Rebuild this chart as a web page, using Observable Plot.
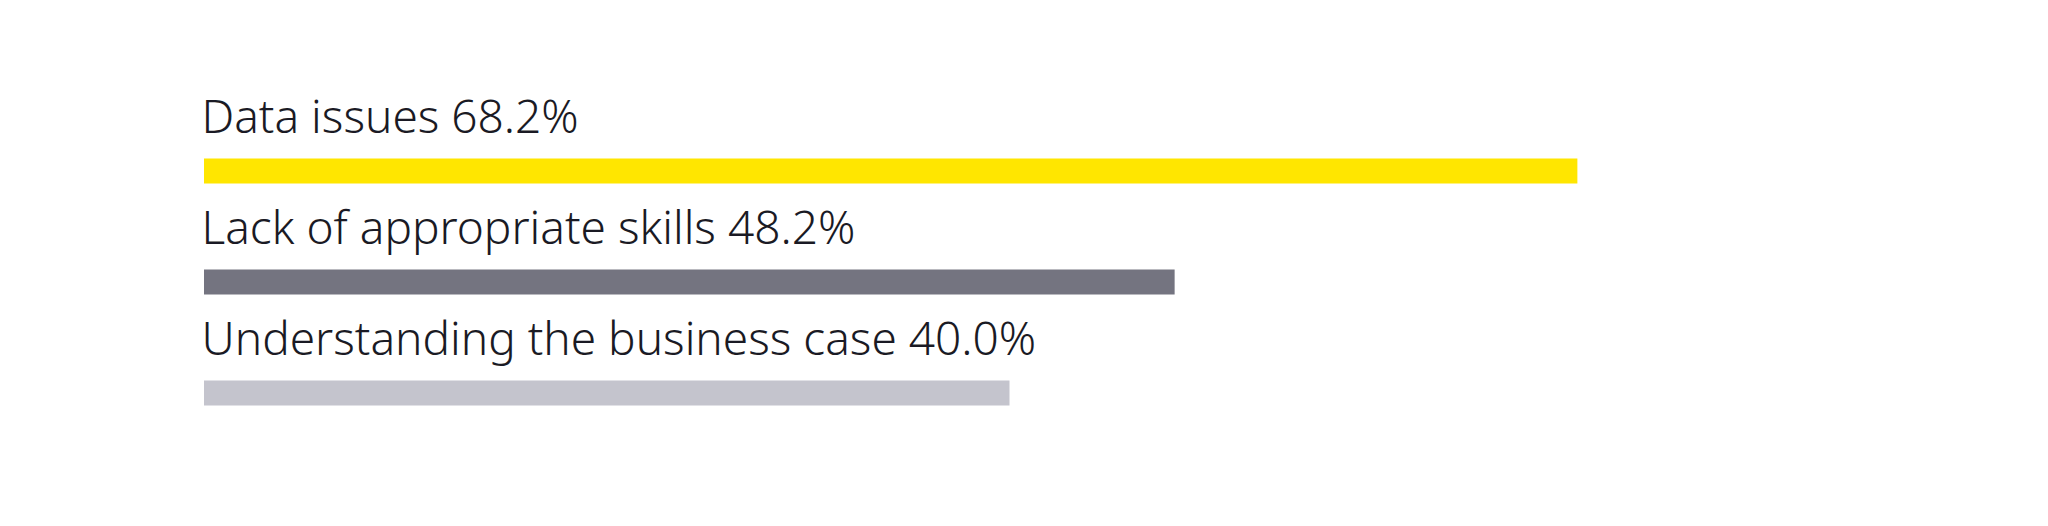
<!DOCTYPE html>
<html><head><meta charset="utf-8">
<script src="https://cdn.jsdelivr.net/npm/d3@7"></script>
<script src="https://cdn.jsdelivr.net/npm/@observablehq/plot@0.6"></script>
<style>body{margin:0;background:#fff}</style>
</head><body><div id="chart"></div>
<script>
// Challenges reported, share of respondents (%)
const categories = ["Data issues", "Lack of appropriate skills", "Understanding the business case"];
const values = [68.2, 48.2, 40.0];
const colors = ["#FFE600", "#747480", "#C4C4CD"];

const rows = categories.map((c, i) => ({category: c, value: values[i], color: colors[i]}));

const chart = Plot.plot({
  width: 2048,
  height: 526,
  marginTop: 100,
  marginBottom: 91.5,
  marginLeft: 204,
  marginRight: 233,
  style: {background: "#fff", fontFamily: "'Noto Sans', sans-serif"},
  x: {domain: [0, 80], axis: null},
  y: {type: "band", domain: categories, padding: 0, axis: null},
  marks: [
    Plot.barX(rows, {
      x: "value",
      y: "category",
      fill: "color",
      insetTop: 57.5,
      insetBottom: 28.5
    }),
    Plot.text(rows, {
      x: 0,
      y: "category",
      text: d => `${d.category} ${d.value.toFixed(1)}%`,
      textAnchor: "start",
      lineAnchor: "bottom",
      dx: -3,
      dy: -24,
      fontSize: 46,
      fontWeight: 300,
      fill: "#1a1a24"
    })
  ]
});
document.getElementById("chart").append(chart);
</script></body></html>
